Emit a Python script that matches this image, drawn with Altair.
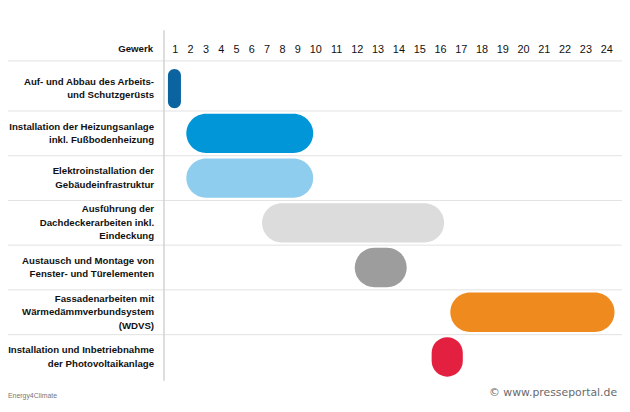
import altair as alt
import pandas as pd

# ---- data ----
tasks = [
    "Auf- und Abbau des Arbeits-\nund Schutzgerüsts",
    "Installation der Heizungsanlage\u00a0\ninkl. Fußbodenheizung",
    "Elektroinstallation der\u00a0\nGebäudeinfrastruktur",
    "Ausführung der\u00a0\nDachdeckerarbeiten inkl.\nEindeckung",
    "Austausch und Montage von\u00a0\nFenster- und Türelementen",
    "Fassadenarbeiten mit\u00a0\nWärmedämmverbundsystem\u00a0\n(WDVS)",
    "Installation und Inbetriebnahme\u00a0\nder Photovoltaikanlage",
]
start_week = [0.55, 1.75, 1.75, 6.7, 11.9, 16.5, 15.6]
end_week = [1.4, 9.9, 9.9, 16.2, 14.4, 24.4, 17.1]
colors = ["#0b64a0", "#0096d8", "#8fcdef", "#dcdcdc", "#9d9d9d", "#ef8a1e", "#e3203f"]
weeks = list(range(1, 25))
header = ["Gewerk"]
source = ["Energy4Climate"]
watermark = ["© www.presseportal.de"]

FONT = "Liberation Sans"
LINE_H = 13.5
ROW_PX = 324 / 7.15

df = pd.DataFrame({
    "task": tasks,
    "row": list(range(len(tasks))),
    "start": start_week,
    "end": end_week,
    "color": colors,
})

xscale = alt.Scale(domain=[0.5, 9.5, 24.5], range=[3.25, 142.75, 458.5])
yscale = alt.Scale(domain=[-0.62, 6.53], range=[0, 324])

base = alt.Chart(df)

# separators between rows
seps = base.transform_filter("datum.row < 6").transform_calculate(
    sy="datum.row + 0.5"
).mark_rule(color="#e2e2e2", strokeWidth=1).encode(
    y=alt.Y("sy:Q", scale=yscale, axis=None),
    x=alt.value(-158),
    x2=alt.value(464),
)

top_line = alt.Chart(pd.DataFrame({"h": header})).mark_rule(
    color="#e2e2e2", strokeWidth=1
).encode(y=alt.value(0), x=alt.value(-158), x2=alt.value(464))

vline = alt.Chart(pd.DataFrame({"h": header})).mark_rule(
    color="#d2d2d2", strokeWidth=1.5
).encode(x=alt.value(0), y=alt.value(-31), y2=alt.value(324))

bars = base.transform_calculate(
    y0="datum.row - 0.44", y1="datum.row + 0.44"
).mark_bar(cornerRadius=20).encode(
    x=alt.X(
        "start:Q",
        scale=xscale,
        axis=alt.Axis(
            orient="top", values=weeks, title=None, domain=False, ticks=False,
            tickSize=0, grid=False, labelPadding=6, labelFontSize=11,
            labelColor="#111111", labelFont=FONT,
            labelFlush=False, labelOverlap=False,
        ),
    ),
    x2="end:Q",
    y=alt.Y("y0:Q", scale=yscale, axis=None),
    y2="y1:Q",
    color=alt.Color("color:N", scale=None, legend=None),
)

labels = base.transform_calculate(
    nlines="length(split(datum.task, '\\n'))"
).transform_calculate(
    ty=f"datum.row - (datum.nlines - 1) * {LINE_H / 2 / ROW_PX}"
).mark_text(
    align="right", baseline="middle", font=FONT, fontSize=9.8,
    fontWeight="bold", lineBreak="\n", lineHeight=LINE_H, color="#111111",
).encode(
    x=alt.value(-10),
    y=alt.Y("ty:Q", scale=yscale, axis=None),
    text="task:N",
)

head = alt.Chart(pd.DataFrame({"t": header})).mark_text(
    align="right", baseline="middle", font=FONT, fontSize=9.8,
    fontWeight="bold", color="#111111",
).encode(x=alt.value(-11), y=alt.value(-12), text="t:N")

src = alt.Chart(pd.DataFrame({"t": source})).mark_text(
    align="left", baseline="middle", font=FONT, fontSize=7, color="#777777",
).encode(x=alt.value(-158), y=alt.value(340), text="t:N")

wm = alt.Chart(pd.DataFrame({"t": watermark})).mark_text(
    align="right", baseline="middle", font="DejaVu Sans", fontSize=11,
    color="#6a6a6a",
).encode(x=alt.value(459), y=alt.value(336), text="t:N")

chart = alt.layer(seps, top_line, vline, bars, labels, head, src, wm).properties(
    width=464,
    height=324,
    padding={"left": 158, "top": 51, "right": 0, "bottom": 21},
    autosize=alt.AutoSizeParams(type="none"),
    background="white",
).configure_view(stroke=None)

chart.save("out.html", embed_options={"renderer": "svg", "actions": False})
